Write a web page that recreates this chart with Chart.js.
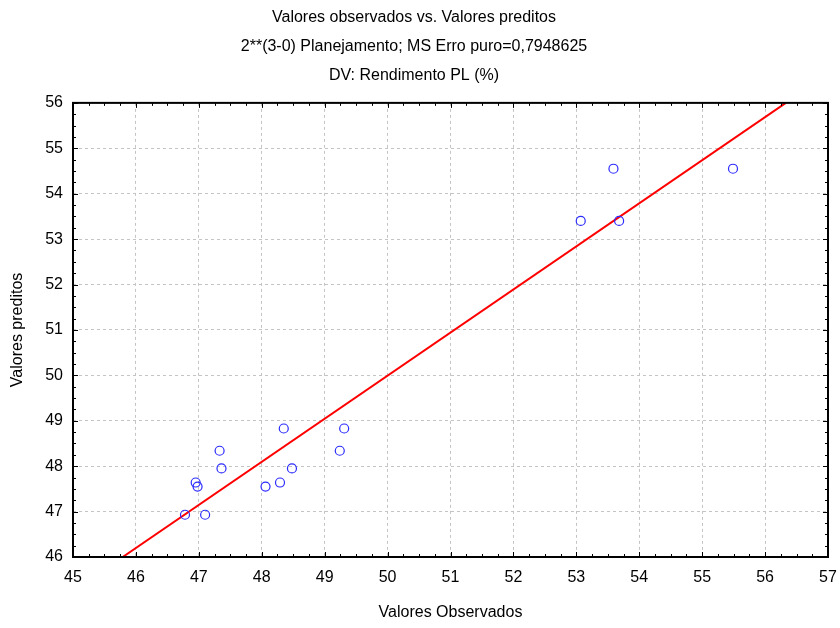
<!DOCTYPE html>
<html><head><meta charset="utf-8">
<script src="https://cdn.jsdelivr.net/npm/chart.js@4"></script>
<style>html,body{margin:0;padding:0;background:#fff}#wrap{width:840px;height:628px}</style>
</head><body><div id="wrap"><canvas id="c" width="840" height="628"></canvas></div>
<script>
// chart text
const TITLE_LINES=['Valores observados vs. Valores preditos','2**(3-0) Planejamento; MS Erro puro=0,7948625','DV: Rendimento PL (%)'];
const X_LABEL='Valores Observados';
const Y_LABEL='Valores preditos';
const obsX =[46.78,47.10,46.95,48.29,46.98,48.06,47.36,48.48,47.33,49.24,48.35,49.31,53.07,53.68,53.59,55.49];
const predY=[46.93,46.93,47.64,47.64,47.55,47.55,47.95,47.95,48.34,48.34,48.83,48.83,53.40,53.40,54.55,54.55];
// red fit line ends
const fitX=[45.79,56.33];
const fitY=[46,56];
const X_MIN=45,X_MAX=57,Y_MIN=46,Y_MAX=56;
const FONT='"Liberation Sans", Arial, sans-serif';

// black frame with small inward ticks every 0.25
const framePlugin={id:'frame',afterDatasetsDraw(chart){
  const {ctx,chartArea:a,scales:{x,y}}=chart;
  ctx.save();ctx.strokeStyle='#000';ctx.lineWidth=1;ctx.beginPath();
  for(let i=0;i<=(X_MAX-X_MIN)*4;i++){const px=Math.round(x.getPixelForValue(X_MIN+i*0.25))+0.5,len=i%4?3:5;
    ctx.moveTo(px,a.bottom);ctx.lineTo(px,a.bottom-len);ctx.moveTo(px,a.top);ctx.lineTo(px,a.top+len);}
  for(let i=0;i<=(Y_MAX-Y_MIN)*4;i++){const py=Math.round(y.getPixelForValue(Y_MIN+i*0.25))+0.5,len=i%4?3:5;
    ctx.moveTo(a.left,py);ctx.lineTo(a.left+len,py);ctx.moveTo(a.right,py);ctx.lineTo(a.right-len,py);}
  ctx.stroke();
  ctx.lineWidth=2;ctx.strokeRect(a.left,a.top,a.right-a.left,a.bottom-a.top);
  ctx.restore();
}};

new Chart(document.getElementById('c').getContext('2d'),{
  type:'scatter',
  data:{datasets:[
    {data:obsX.map((v,i)=>({x:v,y:predY[i]})),pointRadius:4.5,pointHoverRadius:4.5,pointBorderWidth:1.2,
      borderColor:'#2a2aff',backgroundColor:'rgba(0,0,0,0)',pointStyle:'circle',order:0},
    {type:'line',data:fitX.map((v,i)=>({x:v,y:fitY[i]})),borderColor:'#ff0000',borderWidth:2,pointRadius:0,fill:false,order:1}
  ]},
  options:{responsive:false,animation:false,events:[],
    layout:{padding:{left:0,right:12,top:0,bottom:0}},
    plugins:{legend:{display:false},tooltip:{enabled:false},
      title:{display:true,text:TITLE_LINES,color:'#000',font:{family:FONT,size:16,weight:'normal',lineHeight:1.81},padding:{top:3,bottom:13}}},
    scales:{
      x:{type:'linear',min:X_MIN,max:X_MAX,afterFit:s=>{s.height=71;s.paddingLeft=0;s.paddingRight=0;},
        ticks:{stepSize:1,color:'#000',font:{family:FONT,size:16},padding:11,maxRotation:0},
        grid:{color:'#c4c4c4',drawTicks:false},border:{display:false,dash:[3,3]},
        title:{display:true,text:X_LABEL,color:'#000',font:{family:FONT,size:16},padding:{top:4,bottom:6}}},
      y:{type:'linear',min:Y_MIN,max:Y_MAX,afterFit:s=>{s.width=73;s.paddingTop=0;s.paddingBottom=0;},
        ticks:{stepSize:1,color:'#000',font:{family:FONT,size:16},padding:10},
        grid:{color:'#c4c4c4',drawTicks:false},border:{display:false,dash:[3,3]},
        title:{display:true,text:Y_LABEL,color:'#000',font:{family:FONT,size:16},padding:{top:8,bottom:4}}}
    }},
  plugins:[framePlugin]
});
</script></body></html>
